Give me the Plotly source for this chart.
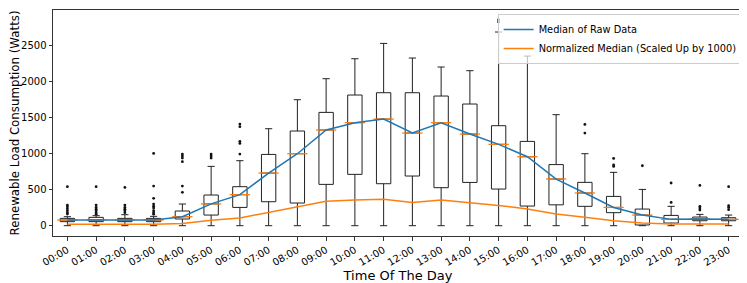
import plotly.graph_objects as go

hours = [f"{h:02d}:00" for h in range(24)]
positions = list(range(24))

q1 = [56, 56, 56, 56, 93, 148, 254, 333, 315, 574, 713, 583, 690, 528, 601, 509, 273, 290, 269, 181, 10, 37, 69, 69]
medians = [79, 79, 79, 79, 125, 303, 431, 731, 1000, 1329, 1431, 1481, 1287, 1431, 1273, 1130, 958, 648, 454, 254, 148, 88, 93, 88]
q3 = [102, 116, 102, 102, 204, 426, 542, 990, 1315, 1574, 1815, 1847, 1847, 1801, 1690, 1389, 1171, 849, 602, 407, 231, 143, 120, 111]
upper_whisker = [125, 139, 153, 130, 301, 824, 903, 1347, 1750, 2042, 2319, 2532, 2329, 2204, 2153, 2690, 2356, 1542, 1000, 741, 504, 269, 157, 148]
lower_whisker = [0] * 24

outlier_hour = ([0] * 7 + [1] * 7 + [2] * 6 + [3] * 9 + [4] * 6 + [5] * 3 + [6] * 5 + [15] * 2
                + [18] * 2 + [19] * 3 + [20] + [21] * 2 + [22] * 4 + [23] * 4)
outlier_value = ([542, 287, 264, 236, 208, 181, 162]
                 + [542, 287, 254, 230, 208, 181, 160]
                 + [532, 287, 254, 230, 208, 181]
                 + [1004, 551, 380, 301, 270, 245, 208, 181, 160]
                 + [995, 968, 940, 889, 551, 463]
                 + [995, 968, 940]
                 + [995, 1143, 1171, 1375, 1412]
                 + [2830, 2860]
                 + [1407, 1287]
                 + [935, 843, 824]
                 + [833]
                 + [593, 324]
                 + [560, 268, 245, 218]
                 + [542, 278, 254, 222])

raw_median = medians
normalized_median_scaled = [19, 19, 19, 20, 30, 75, 108, 185, 254, 338, 357, 366, 324, 357, 319, 282, 231, 162, 116, 69, 37, 23, 23, 22]

BLUE = "#1f77b4"
ORANGE = "#ff7f0e"
FONT = "DejaVu Sans"

fig = go.Figure()

fig.add_trace(go.Box(
    x=positions, q1=q1, median=medians, q3=q3,
    lowerfence=lower_whisker, upperfence=upper_whisker,
    width=0.5, whiskerwidth=0.5, boxpoints=False,
    fillcolor="white", line=dict(color="#222222", width=1),
    showlegend=False, hoverinfo="skip",
))

# orange median lines inside boxes
fig.add_trace(go.Scatter(
    x=positions, y=medians, mode="markers",
    marker=dict(symbol="line-ew", size=14.5, line=dict(color=ORANGE, width=1.3)),
    showlegend=False, hoverinfo="skip",
))

# outliers
fig.add_trace(go.Scatter(
    x=outlier_hour, y=outlier_value, mode="markers",
    marker=dict(symbol="circle", size=2.8, color="#111111"),
    showlegend=False, hoverinfo="skip",
))

fig.add_trace(go.Scatter(
    x=positions, y=raw_median, mode="lines",
    line=dict(color=BLUE, width=1.5), name="Median of Raw Data",
))
fig.add_trace(go.Scatter(
    x=positions, y=normalized_median_scaled, mode="lines",
    line=dict(color=ORANGE, width=1.5), name="Normalized Median (Scaled Up by 1000)",
))

# the page body has an 8px default margin, so the figure is sized to fit the window from (8, 8)
fig.update_layout(
    width=739, height=275,
    margin=dict(l=41, r=4, t=1, b=47),
    paper_bgcolor="white", plot_bgcolor="white",
    font=dict(family=FONT, size=10, color="black"),
    boxmode="overlay",
    legend=dict(
        x=0.9995, y=0.982, xanchor="right", yanchor="top",
        bgcolor="rgba(255,255,255,0.7)", bordercolor="#cccccc", borderwidth=1,
        font=dict(size=9.8, family=FONT), itemwidth=30, tracegroupgap=0,
    ),
)

fig.update_xaxes(
    range=[-0.5, 23.5], tickvals=positions, ticktext=hours, tickangle=-30,
    showline=True, mirror=True, linecolor="#333333", linewidth=1,
    ticks="outside", ticklen=3.5, tickcolor="#333333", showgrid=False, zeroline=False,
    title=dict(text="Time Of The Day", font=dict(size=13, family=FONT), standoff=1),
    tickfont=dict(size=10),
)
fig.update_yaxes(
    range=[-143, 2996], tickvals=[0, 500, 1000, 1500, 2000, 2500],
    showline=True, mirror=True, linecolor="#333333", linewidth=1,
    ticks="outside", ticklen=3.5, tickcolor="#333333", showgrid=False, zeroline=False,
    title=dict(text="Renewable Load Consumption (Watts)", font=dict(size=11.8, family=FONT), standoff=4),
    tickfont=dict(size=10),
)

fig.write_html("out.html")
